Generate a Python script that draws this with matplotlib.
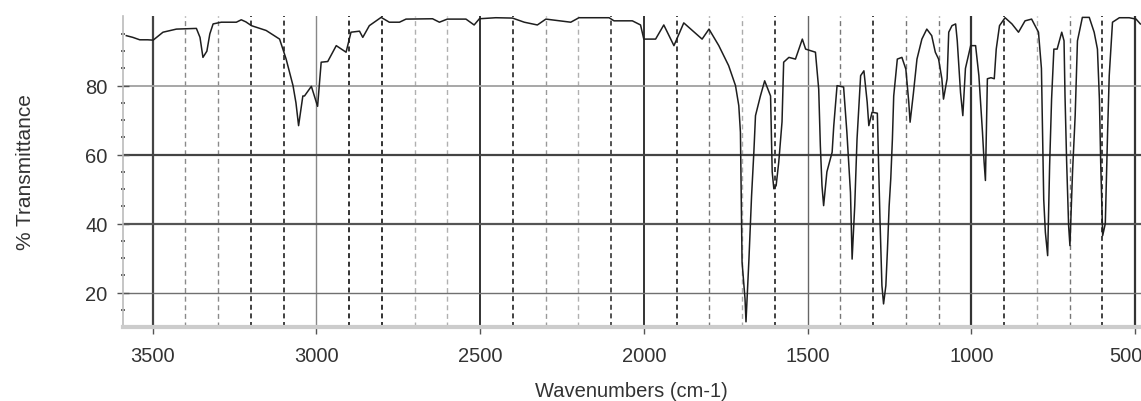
import matplotlib
matplotlib.use("Agg")
import matplotlib.pyplot as plt
from matplotlib.transforms import ScaledTranslation

# ---- data ----
wavenumbers = [3580, 3560, 3539, 3515, 3498, 3468, 3427, 3366, 3355, 3346, 3334, 3325, 3315,
               3290, 3244, 3229, 3215, 3198, 3153, 3112, 3092, 3071, 3062, 3054, 3041, 3036,
               3015, 3000, 2996, 2985, 2965, 2939, 2909, 2894, 2868, 2858, 2838, 2802, 2777,
               2746, 2726, 2645, 2624, 2600, 2543, 2518, 2502, 2452, 2401, 2365, 2325, 2299,
               2223, 2198, 2106, 2091, 2035, 2010, 2000, 1964, 1939, 1908, 1878, 1852, 1822,
               1801, 1771, 1741, 1720, 1710, 1705, 1700, 1691, 1688, 1679, 1671, 1664, 1659,
               1644, 1631, 1613, 1608, 1603, 1596, 1588, 1578, 1573, 1557, 1537, 1516, 1506,
               1476, 1466, 1461, 1456, 1451, 1441, 1425, 1420, 1410, 1390, 1380, 1369, 1364,
               1356, 1349, 1338, 1328, 1318, 1313, 1303, 1287, 1284, 1279, 1273, 1268, 1261,
               1256, 1251, 1246, 1241, 1237, 1226, 1212, 1200, 1191, 1187, 1177, 1166, 1151,
               1136, 1121, 1110, 1100, 1090, 1085, 1074, 1069, 1059, 1048, 1043, 1033, 1026,
               1018, 1002, 987, 977, 966, 961, 957, 951, 940, 930, 924, 914, 897, 876, 856,
               836, 816, 795, 786, 779, 774, 767, 761, 755, 748, 738, 724, 717, 714, 709,
               703, 699, 691, 683, 676, 661, 640, 625, 615, 609, 605, 599, 591, 584, 579,
               569, 548, 518, 497, 484]
transmittance = [94.5, 94.0, 93.3, 93.3, 93.2, 95.5, 96.4, 96.6, 94.0, 88.2, 90.0, 95.0, 97.9,
                 98.4, 98.4, 99.1, 98.5, 97.4, 96.0, 93.5, 87.7, 80.0, 75.0, 68.4, 77.0, 77.0,
                 79.8, 75.2, 74.0, 86.8, 87.0, 91.6, 89.7, 95.5, 95.8, 94.0, 97.4, 99.8, 98.4,
                 98.4, 99.3, 99.4, 98.4, 99.3, 99.3, 97.6, 99.4, 99.7, 99.6, 98.4, 97.6, 99.3,
                 98.4, 99.7, 99.7, 98.8, 98.8, 97.6, 93.5, 93.5, 97.6, 91.6, 98.2, 96.0, 93.5,
                 96.4, 91.6, 85.8, 80.0, 74.2, 66.5, 28.8, 18.2, 11.5, 29.7, 48.0, 60.7, 71.3,
                 77.0, 81.4, 77.0, 55.0, 50.1, 51.0, 57.8, 69.5, 86.8, 88.2, 87.7, 93.5, 90.6,
                 89.7, 79.0, 62.6, 51.0, 45.2, 55.0, 60.7, 68.4, 80.0, 79.6, 66.5, 49.0, 29.7,
                 45.2, 64.5, 82.9, 84.3, 75.2, 68.4, 72.3, 72.0, 60.7, 41.4, 22.0, 16.7, 22.0,
                 32.7, 45.0, 53.0, 64.5, 77.0, 87.7, 88.2, 84.8, 75.2, 69.4, 77.7, 87.7, 93.5,
                 96.4, 94.5, 89.7, 87.7, 82.0, 76.1, 82.0, 95.5, 97.4, 97.9, 93.0, 78.0, 71.3,
                 85.0, 91.6, 91.6, 82.9, 66.5, 57.8, 52.5, 82.0, 82.3, 82.0, 90.6, 97.4, 99.7,
                 97.9, 95.5, 98.8, 99.3, 95.5, 85.0, 47.0, 37.5, 30.7, 56.8, 76.1, 90.6, 90.6,
                 95.5, 93.0, 77.0, 57.8, 39.4, 33.6, 55.0, 71.3, 93.0, 99.8, 99.8, 95.5, 90.6,
                 76.1, 57.5, 36.5, 40.0, 66.5, 82.9, 98.4, 99.7, 99.7, 99.3, 97.9]

x_ticks = [3500, 3000, 2500, 2000, 1500, 1000, 500]
y_ticks = [20, 40, 60, 80]
x_label = "Wavenumbers (cm-1)"
y_label = "% Transmittance"

# gridline shades (scan look of reference)
minor_x_lines = {3400: "#8a8a8a", 3300: "#8a8a8a", 3200: "#333333", 3100: "#333333",
                 2900: "#222222", 2800: "#222222", 2700: "#b0b0b0", 2600: "#b0b0b0",
                 2400: "#333333", 2300: "#999999", 2200: "#b0b0b0", 2100: "#444444",
                 1900: "#333333", 1800: "#777777", 1700: "#aaaaaa", 1600: "#333333",
                 1400: "#777777", 1300: "#333333", 1200: "#777777", 1100: "#777777",
                 900: "#333333", 800: "#aaaaaa", 700: "#777777", 600: "#333333"}
major_x_lines = {3500: ("#444444", 1.6), 3000: ("#888888", 1.0), 2500: ("#333333", 1.4),
                 2000: ("#333333", 1.4), 1500: ("#666666", 1.0), 1000: ("#333333", 1.6),
                 500: ("#333333", 1.6)}
h_lines = {80: ("#a0a0a0", 1.3), 60: ("#444444", 1.6), 40: ("#555555", 1.6), 20: ("#707070", 1.0)}

plt.rcParams['font.family'] = ['Liberation Sans', 'DejaVu Sans']

fig = plt.figure(figsize=(11.41, 4.02), dpi=100)
ax = fig.add_axes([122.7 / 1141, 1 - 328 / 402, 1 - 122.7 / 1141, (328 - 17) / 402])

for wn, col in minor_x_lines.items():
    lw = 1.3 if col in ("#333333", "#222222", "#444444") else 1.0
    ax.axvline(wn, color=col, lw=lw, linestyle=(0, (3.6 / lw, 2.6 / lw)), zorder=1)
for wn, (col, lw) in major_x_lines.items():
    ax.axvline(wn, color=col, lw=lw, zorder=1)
for yv, (col, lw) in h_lines.items():
    ax.axhline(yv, color=col, lw=lw, zorder=1)

ax.plot(wavenumbers, transmittance, color="#1e1e1e", lw=1.1, zorder=3)

ax.set_xlim(3591, 482)
ax.set_ylim(10.0, 100.2)
ax.set_xticks(x_ticks)
ax.set_xticklabels([str(v) for v in x_ticks])
ax.set_yticks(y_ticks)
ax.set_yticklabels([str(v) for v in y_ticks])
ax.set_yticks(list(range(15, 100, 5)), minor=True)
ax.set_yticklabels([], minor=True)

for s in ("top", "right"):
    ax.spines[s].set_visible(False)
ax.spines["left"].set_color("#bbbbbb")
ax.spines["left"].set_linewidth(1.2)
ax.spines["bottom"].set_color("#cccccc")
ax.spines["bottom"].set_linewidth(3.0)

ax.tick_params(axis="x", which="major", direction="out", length=5, width=1.0, color="#555555",
               labelsize=14.5, labelcolor="#333333", pad=9)
ax.tick_params(axis="y", which="major", direction="inout", length=8, width=1.0, color="#555555",
               labelsize=14.5, labelcolor="#333333", pad=7)
ax.tick_params(axis="y", which="minor", direction="inout", length=3, width=1.2, color="#444444")

# keep the last x label ("500") inside the figure, as in the reference
last = ax.get_xticklabels()[-1]
last.set_transform(last.get_transform() + ScaledTranslation(-9 / 100, 0, fig.dpi_scale_trans))

ax.set_xlabel(x_label, fontsize=14.5, color="#333333", labelpad=11)
ax.set_ylabel(y_label, fontsize=15, color="#333333", labelpad=36)

fig.savefig("out.png", dpi=100)
